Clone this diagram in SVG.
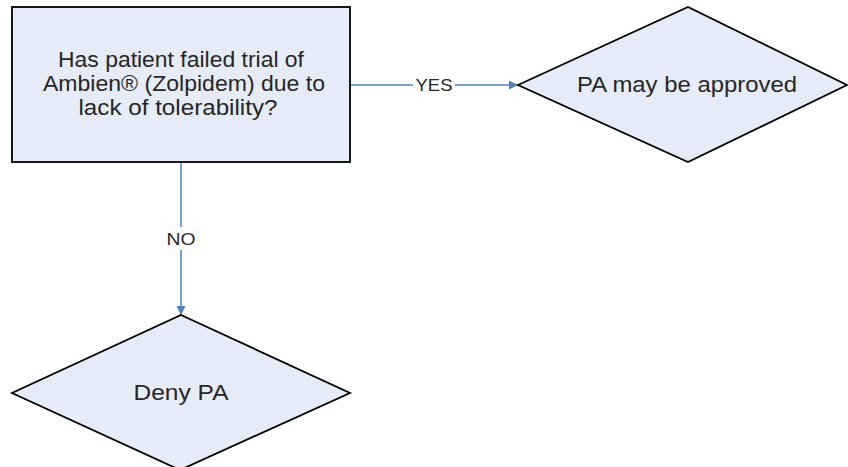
<svg xmlns="http://www.w3.org/2000/svg" width="848" height="467" viewBox="0 0 848 467">
  <defs>
    <marker id="arrow" viewBox="0 0 10 10" refX="10" refY="5" markerWidth="10" markerHeight="9" markerUnits="userSpaceOnUse" orient="auto">
      <path d="M0,0 L10,5 L0,10 z" fill="#4f81bd"/>
    </marker>
  </defs>
  <style>
    .shape { fill: #e6ecf7; stroke: #000000; stroke-width: 1.8; }
    .txt { font-family: "Liberation Sans", Arial, sans-serif; font-size: 22px; fill: #262626; text-anchor: middle; }
    .lbl { font-family: "Liberation Sans", Arial, sans-serif; font-size: 17px; fill: #262626; text-anchor: middle; }
    .conn { stroke: #4f81bd; stroke-width: 1.5; fill: none; }
    .bg { fill: #ffffff; }
  </style>
  <rect width="848" height="467" fill="#ffffff"/>
  <g id="connectors">
    <line class="conn" x1="350" y1="85" x2="518" y2="85" marker-end="url(#arrow)"/>
    <rect class="bg" x="413" y="75" width="42" height="20"/>
    <text class="lbl" x="434" y="91" textLength="37" lengthAdjust="spacingAndGlyphs">YES</text>
    <line class="conn" x1="181" y1="162" x2="181" y2="315" marker-end="url(#arrow)"/>
    <rect class="bg" x="164" y="227" width="34" height="23"/>
    <text class="lbl" x="181" y="245" textLength="29" lengthAdjust="spacingAndGlyphs">NO</text>
  </g>
  <g id="question">
    <rect class="shape" x="12" y="7" width="338" height="155"/>
    <text class="txt" x="181" y="67" textLength="246" lengthAdjust="spacingAndGlyphs">Has patient failed trial of</text>
    <text class="txt" x="184" y="91" textLength="282" lengthAdjust="spacingAndGlyphs">Ambien® (Zolpidem) due to</text>
    <text class="txt" x="178" y="115" textLength="199" lengthAdjust="spacingAndGlyphs">lack of tolerability?</text>
  </g>
  <g id="approved">
    <polygon class="shape" points="518,85 688,7 847,85 688,162"/>
    <text class="txt" x="687" y="92" textLength="220" lengthAdjust="spacingAndGlyphs">PA may be approved</text>
  </g>
  <g id="deny">
    <polygon class="shape" points="181,315 350,393 180,470 12,393"/>
    <text class="txt" x="181" y="400" textLength="95" lengthAdjust="spacingAndGlyphs">Deny PA</text>
  </g>
</svg>
